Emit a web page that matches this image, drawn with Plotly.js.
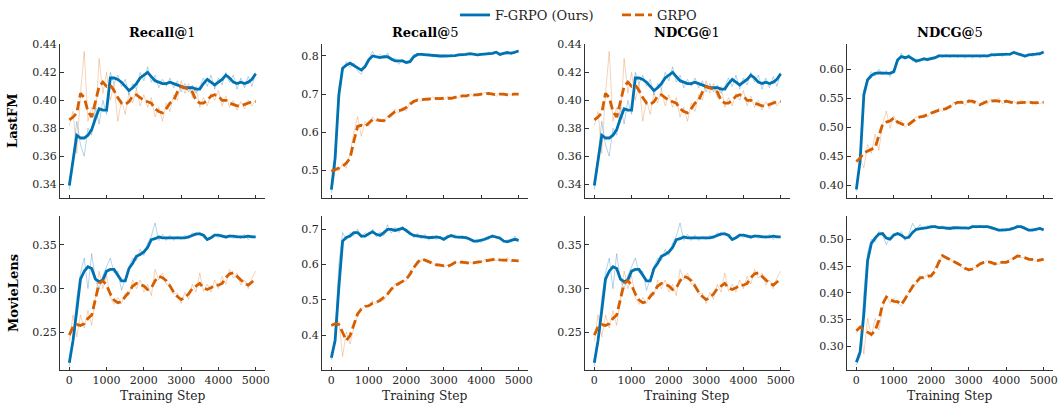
<!DOCTYPE html>
<html>
<head>
<meta charset="utf-8">
<script src="https://cdn.plot.ly/plotly-3.0.1.min.js"></script>
<style>
html,body{margin:0;padding:0;background:#fff;}
#chart{width:1062px;height:404px;}
</style>
</head>
<body>
<div id="chart"></div>
<script>
// ---------------- DATA ----------------
const steps = [0,100,200,300,400,500,600,700,800,900,1000,1100,1200,1300,1400,1500,1600,1700,1800,1900,2000,2100,2200,2300,2400,2500,2600,2700,2800,2900,3000,3100,3200,3300,3400,3500,3600,3700,3800,3900,4000,4100,4200,4300,4400,4500,4600,4700,4800,4900,5000];
const xTicks = [0,1000,2000,3000,4000,5000];
const columnTitles = ['<b>Recall@</b>1','<b>Recall@</b>5','<b>NDCG@</b>1','<b>NDCG@</b>5'];
const rowLabels = ['LastFM','MovieLens'];
const seriesNames = ['F-GRPO (Ours)','GRPO'];
const xLabel = 'Training Step';

// LastFM Recall@1 (identical to NDCG@1)
const lastfm_r1_fgrpo_smooth = [0.339,0.356,0.375,0.373,0.373,0.375,0.379,0.387,0.394,0.393,0.393,0.416,0.416,0.415,0.413,0.410,0.407,0.409,0.412,0.416,0.418,0.420,0.417,0.414,0.413,0.412,0.412,0.413,0.412,0.411,0.410,0.409,0.409,0.409,0.408,0.408,0.412,0.415,0.413,0.411,0.413,0.415,0.418,0.416,0.413,0.412,0.413,0.412,0.413,0.415,0.419];
const lastfm_r1_fgrpo_raw = [0.336,0.362,0.385,0.368,0.360,0.380,0.375,0.395,0.383,0.400,0.390,0.420,0.412,0.418,0.410,0.415,0.404,0.412,0.408,0.420,0.414,0.424,0.413,0.418,0.409,0.415,0.410,0.416,0.409,0.414,0.406,0.412,0.406,0.411,0.405,0.410,0.416,0.410,0.418,0.408,0.416,0.411,0.420,0.413,0.418,0.408,0.416,0.409,0.417,0.410,0.420];
const lastfm_r1_grpo_smooth = [0.386,0.388,0.391,0.405,0.402,0.392,0.388,0.399,0.410,0.413,0.410,0.411,0.407,0.402,0.398,0.397,0.399,0.403,0.404,0.402,0.400,0.399,0.398,0.394,0.392,0.391,0.394,0.398,0.400,0.406,0.410,0.409,0.408,0.406,0.400,0.398,0.398,0.400,0.403,0.404,0.403,0.400,0.400,0.398,0.397,0.396,0.396,0.397,0.398,0.399,0.399];
const lastfm_r1_grpo_raw = [0.382,0.392,0.362,0.405,0.435,0.385,0.395,0.385,0.430,0.405,0.420,0.400,0.412,0.385,0.400,0.390,0.405,0.398,0.408,0.396,0.404,0.395,0.402,0.388,0.395,0.385,0.398,0.392,0.404,0.400,0.414,0.405,0.412,0.402,0.410,0.395,0.402,0.396,0.405,0.400,0.407,0.396,0.403,0.395,0.400,0.393,0.399,0.394,0.400,0.396,0.400];

// LastFM Recall@5
const lastfm_r5_fgrpo_smooth = [0.449,0.532,0.698,0.768,0.776,0.781,0.775,0.768,0.763,0.772,0.790,0.800,0.798,0.796,0.798,0.798,0.792,0.787,0.787,0.787,0.783,0.785,0.798,0.804,0.804,0.803,0.803,0.801,0.801,0.800,0.800,0.800,0.801,0.801,0.803,0.803,0.804,0.806,0.804,0.803,0.804,0.805,0.807,0.807,0.810,0.804,0.807,0.809,0.807,0.809,0.813];
const lastfm_r5_fgrpo_raw = [0.440,0.500,0.720,0.760,0.785,0.770,0.782,0.760,0.752,0.778,0.795,0.812,0.795,0.805,0.792,0.808,0.788,0.795,0.778,0.792,0.780,0.790,0.805,0.800,0.808,0.800,0.806,0.798,0.804,0.797,0.803,0.798,0.805,0.799,0.806,0.801,0.808,0.802,0.806,0.800,0.808,0.803,0.810,0.805,0.812,0.801,0.809,0.805,0.811,0.806,0.815];
const lastfm_r5_grpo_smooth = [0.497,0.502,0.506,0.510,0.519,0.532,0.576,0.615,0.618,0.615,0.624,0.633,0.633,0.630,0.630,0.637,0.646,0.654,0.656,0.659,0.665,0.674,0.681,0.684,0.685,0.685,0.687,0.689,0.688,0.688,0.689,0.689,0.689,0.691,0.694,0.695,0.695,0.698,0.698,0.698,0.700,0.701,0.702,0.700,0.698,0.700,0.700,0.698,0.700,0.700,0.700];
const lastfm_r5_grpo_raw = [0.495,0.510,0.498,0.518,0.505,0.545,0.600,0.641,0.589,0.628,0.615,0.640,0.628,0.636,0.625,0.642,0.640,0.660,0.650,0.666,0.655,0.680,0.676,0.690,0.680,0.690,0.683,0.693,0.684,0.692,0.685,0.693,0.686,0.695,0.690,0.699,0.691,0.702,0.694,0.703,0.696,0.705,0.697,0.704,0.694,0.703,0.696,0.702,0.697,0.703,0.699];

// LastFM NDCG@5
const lastfm_n5_fgrpo_smooth = [0.393,0.442,0.556,0.582,0.589,0.593,0.594,0.594,0.593,0.593,0.596,0.616,0.622,0.620,0.622,0.618,0.614,0.616,0.618,0.617,0.618,0.620,0.623,0.623,0.623,0.623,0.623,0.623,0.622,0.622,0.622,0.622,0.622,0.622,0.623,0.623,0.625,0.625,0.625,0.625,0.626,0.626,0.629,0.627,0.625,0.623,0.625,0.625,0.626,0.627,0.630];
const lastfm_n5_fgrpo_raw = [0.390,0.450,0.565,0.578,0.596,0.588,0.600,0.590,0.598,0.587,0.600,0.612,0.628,0.617,0.626,0.614,0.618,0.612,0.621,0.614,0.621,0.617,0.626,0.620,0.626,0.620,0.626,0.620,0.625,0.619,0.625,0.619,0.625,0.619,0.626,0.620,0.628,0.622,0.628,0.622,0.629,0.623,0.631,0.625,0.628,0.620,0.627,0.622,0.629,0.624,0.632];
const lastfm_n5_grpo_smooth = [0.441,0.447,0.456,0.459,0.462,0.465,0.485,0.505,0.509,0.511,0.516,0.509,0.506,0.503,0.505,0.510,0.515,0.518,0.519,0.522,0.525,0.527,0.529,0.530,0.532,0.536,0.540,0.543,0.543,0.542,0.545,0.545,0.542,0.539,0.542,0.545,0.545,0.546,0.545,0.543,0.545,0.543,0.542,0.542,0.543,0.543,0.543,0.542,0.542,0.543,0.543];
const lastfm_n5_grpo_raw = [0.440,0.445,0.430,0.470,0.455,0.488,0.460,0.505,0.528,0.498,0.520,0.505,0.512,0.500,0.508,0.513,0.518,0.515,0.523,0.517,0.527,0.524,0.533,0.527,0.536,0.532,0.544,0.540,0.547,0.538,0.549,0.541,0.546,0.536,0.546,0.540,0.549,0.543,0.551,0.540,0.548,0.540,0.546,0.539,0.547,0.540,0.546,0.539,0.546,0.540,0.545];

// MovieLens Recall@1 (identical to NDCG@1)
const movielens_r1_fgrpo_smooth = [0.2155,0.241,0.275,0.311,0.320,0.325,0.323,0.311,0.308,0.310,0.320,0.322,0.322,0.315,0.309,0.309,0.323,0.329,0.337,0.339,0.342,0.347,0.356,0.357,0.359,0.358,0.358,0.358,0.358,0.358,0.358,0.358,0.359,0.361,0.3625,0.3625,0.361,0.356,0.358,0.361,0.361,0.360,0.359,0.360,0.360,0.359,0.359,0.359,0.360,0.359,0.359];
const movielens_r1_fgrpo_raw = [0.212,0.245,0.290,0.318,0.335,0.300,0.340,0.310,0.300,0.315,0.325,0.335,0.318,0.320,0.298,0.312,0.325,0.335,0.332,0.345,0.338,0.352,0.360,0.375,0.355,0.362,0.355,0.361,0.355,0.360,0.356,0.361,0.357,0.364,0.360,0.365,0.358,0.355,0.360,0.362,0.358,0.362,0.357,0.362,0.357,0.361,0.357,0.362,0.356,0.361,0.358];
const movielens_r1_grpo_smooth = [0.247,0.2565,0.259,0.258,0.260,0.266,0.270,0.287,0.306,0.309,0.304,0.294,0.287,0.284,0.285,0.291,0.296,0.303,0.306,0.305,0.303,0.299,0.301,0.309,0.314,0.3125,0.309,0.303,0.296,0.291,0.2875,0.290,0.294,0.300,0.303,0.306,0.301,0.299,0.301,0.304,0.304,0.306,0.3125,0.317,0.318,0.314,0.309,0.306,0.304,0.3075,0.311];
const movielens_r1_grpo_raw = [0.240,0.270,0.245,0.270,0.255,0.275,0.258,0.290,0.320,0.300,0.315,0.290,0.282,0.290,0.283,0.295,0.292,0.310,0.300,0.310,0.296,0.305,0.292,0.322,0.310,0.318,0.305,0.306,0.294,0.295,0.283,0.296,0.288,0.305,0.296,0.318,0.297,0.305,0.296,0.310,0.300,0.314,0.305,0.322,0.312,0.318,0.304,0.310,0.300,0.312,0.320];

// MovieLens Recall@5
const movielens_r5_fgrpo_smooth = [0.336,0.385,0.535,0.666,0.676,0.680,0.690,0.690,0.680,0.680,0.687,0.692,0.685,0.682,0.690,0.699,0.699,0.696,0.699,0.702,0.696,0.687,0.682,0.680,0.680,0.6775,0.676,0.676,0.6775,0.676,0.671,0.6775,0.682,0.678,0.6775,0.676,0.676,0.671,0.666,0.666,0.668,0.671,0.676,0.680,0.6775,0.674,0.666,0.664,0.668,0.671,0.668];
const movielens_r5_fgrpo_raw = [0.330,0.400,0.600,0.690,0.670,0.690,0.680,0.700,0.675,0.690,0.680,0.700,0.678,0.692,0.680,0.712,0.688,0.705,0.690,0.708,0.690,0.693,0.675,0.688,0.672,0.685,0.668,0.682,0.670,0.680,0.668,0.684,0.675,0.685,0.672,0.683,0.670,0.675,0.662,0.672,0.662,0.676,0.670,0.685,0.672,0.680,0.662,0.670,0.662,0.680,0.665];
const movielens_r5_grpo_smooth = [0.427,0.432,0.430,0.408,0.385,0.399,0.432,0.460,0.474,0.481,0.483,0.490,0.493,0.4975,0.507,0.516,0.530,0.540,0.546,0.552,0.558,0.5725,0.591,0.605,0.615,0.612,0.608,0.6025,0.599,0.598,0.595,0.594,0.599,0.605,0.607,0.607,0.605,0.603,0.604,0.607,0.608,0.610,0.612,0.615,0.615,0.613,0.612,0.613,0.612,0.610,0.610];
const movielens_r5_grpo_raw = [0.425,0.435,0.440,0.340,0.410,0.375,0.420,0.455,0.470,0.485,0.480,0.498,0.488,0.505,0.498,0.520,0.525,0.545,0.540,0.555,0.552,0.580,0.590,0.612,0.612,0.615,0.605,0.604,0.596,0.602,0.592,0.598,0.600,0.610,0.604,0.612,0.600,0.608,0.600,0.612,0.605,0.614,0.608,0.618,0.610,0.614,0.608,0.620,0.606,0.612,0.608];

// MovieLens NDCG@5
const movielens_n5_fgrpo_smooth = [0.270,0.289,0.360,0.460,0.4925,0.5025,0.510,0.511,0.5025,0.5005,0.508,0.511,0.508,0.5025,0.504,0.513,0.519,0.5205,0.521,0.522,0.524,0.524,0.522,0.522,0.521,0.5205,0.522,0.522,0.522,0.522,0.521,0.524,0.524,0.524,0.524,0.524,0.522,0.519,0.5175,0.5175,0.518,0.519,0.521,0.524,0.524,0.521,0.5175,0.5175,0.519,0.5205,0.518];
const movielens_n5_fgrpo_raw = [0.265,0.280,0.400,0.475,0.500,0.495,0.515,0.508,0.490,0.505,0.512,0.508,0.515,0.498,0.510,0.530,0.518,0.528,0.518,0.526,0.520,0.527,0.520,0.526,0.518,0.524,0.518,0.525,0.519,0.524,0.519,0.527,0.521,0.527,0.521,0.526,0.519,0.521,0.515,0.521,0.515,0.522,0.520,0.527,0.521,0.524,0.515,0.521,0.515,0.523,0.517];
const movielens_n5_grpo_smooth = [0.329,0.3355,0.3305,0.326,0.322,0.329,0.348,0.379,0.392,0.387,0.384,0.3835,0.378,0.3885,0.401,0.4115,0.420,0.428,0.429,0.430,0.432,0.441,0.457,0.4695,0.466,0.463,0.460,0.455,0.451,0.446,0.443,0.4445,0.449,0.454,0.457,0.458,0.457,0.454,0.457,0.457,0.457,0.460,0.465,0.469,0.468,0.465,0.463,0.462,0.460,0.461,0.463];
const movielens_n5_grpo_raw = [0.325,0.340,0.285,0.352,0.318,0.352,0.330,0.370,0.395,0.380,0.390,0.380,0.375,0.392,0.398,0.415,0.415,0.432,0.425,0.436,0.428,0.448,0.455,0.472,0.462,0.465,0.456,0.457,0.448,0.446,0.440,0.447,0.447,0.456,0.455,0.460,0.454,0.457,0.452,0.460,0.455,0.464,0.462,0.470,0.465,0.467,0.460,0.464,0.458,0.465,0.462];

// ---------------- PANELS ----------------
const panels = [
  {fs:lastfm_r1_fgrpo_smooth, fr:lastfm_r1_fgrpo_raw, gs:lastfm_r1_grpo_smooth, gr:lastfm_r1_grpo_raw, yr:[0.330,0.4405], dt:0.02, fmt:'.2f'},
  {fs:lastfm_r5_fgrpo_smooth, fr:lastfm_r5_fgrpo_raw, gs:lastfm_r5_grpo_smooth, gr:lastfm_r5_grpo_raw, yr:[0.427,0.832], dt:0.1, fmt:'.1f'},
  {fs:lastfm_r1_fgrpo_smooth, fr:lastfm_r1_fgrpo_raw, gs:lastfm_r1_grpo_smooth, gr:lastfm_r1_grpo_raw, yr:[0.330,0.4405], dt:0.02, fmt:'.2f'},
  {fs:lastfm_n5_fgrpo_smooth, fr:lastfm_n5_fgrpo_raw, gs:lastfm_n5_grpo_smooth, gr:lastfm_n5_grpo_raw, yr:[0.378,0.644], dt:0.05, fmt:'.2f'},
  {fs:movielens_r1_fgrpo_smooth, fr:movielens_r1_fgrpo_raw, gs:movielens_r1_grpo_smooth, gr:movielens_r1_grpo_raw, yr:[0.207,0.383], dt:0.05, fmt:'.2f'},
  {fs:movielens_r5_fgrpo_smooth, fr:movielens_r5_fgrpo_raw, gs:movielens_r5_grpo_smooth, gr:movielens_r5_grpo_raw, yr:[0.301,0.737], dt:0.1, fmt:'.1f'},
  {fs:movielens_r1_fgrpo_smooth, fr:movielens_r1_fgrpo_raw, gs:movielens_r1_grpo_smooth, gr:movielens_r1_grpo_raw, yr:[0.207,0.383], dt:0.05, fmt:'.2f'},
  {fs:movielens_n5_fgrpo_smooth, fr:movielens_n5_fgrpo_raw, gs:movielens_n5_grpo_smooth, gr:movielens_n5_grpo_raw, yr:[0.255,0.544], dt:0.05, fmt:'.2f'}
];

const W = 1062, H = 404;
const colPx = [[60,265],[322,528],[585,790],[847,1053]];
const rowPx = [[42,197],[215,370]];
const BLUE = '#0072B2', ORANGE = '#D55E00';
const BLUE_F = 'rgba(0,114,178,0.3)', ORANGE_F = 'rgba(213,94,0,0.27)';
const FONT = 'DejaVu Serif';
const AX = '#333333';

const traces = [];
const layout = {
  width: W, height: H,
  margin: {l:0, r:0, t:0, b:0},
  paper_bgcolor: '#fff', plot_bgcolor: '#fff',
  font: {family: FONT, size: 11, color: '#262626'},
  showlegend: true,
  legend: {orientation:'h', x:455/W, xanchor:'left', y:1.005, yanchor:'top',
           entrywidth:117, entrywidthmode:'pixels',
           font:{family:FONT, size:13, color:'#262626'}, bgcolor:'rgba(0,0,0,0)', tracegroupgap:0},
  annotations: []
};

panels.forEach((p, i) => {
  const r = Math.floor(i/4), c = i%4;
  const n = i+1;
  const xa = n===1 ? 'x' : 'x'+n, ya = n===1 ? 'y' : 'y'+n;
  traces.push({x:steps, y:p.fr, xaxis:xa, yaxis:ya, mode:'lines', line:{color:BLUE_F, width:1}, showlegend:false, hoverinfo:'skip'});
  traces.push({x:steps, y:p.gr, xaxis:xa, yaxis:ya, mode:'lines', line:{color:ORANGE_F, width:1}, showlegend:false, hoverinfo:'skip'});
  traces.push({x:steps, y:p.fs, xaxis:xa, yaxis:ya, mode:'lines', name:seriesNames[0], legendgroup:'f', line:{color:BLUE, width:2.8}, showlegend:i===0});
  traces.push({x:steps, y:p.gs, xaxis:xa, yaxis:ya, mode:'lines', name:seriesNames[1], legendgroup:'g', line:{color:ORANGE, width:2.8, dash:'9px,4px'}, showlegend:i===0});

  const xd = [colPx[c][0]/W, colPx[c][1]/W];
  const yd = [1-rowPx[r][1]/H, 1-rowPx[r][0]/H];
  layout['xaxis'+(n===1?'':n)] = {
    domain: xd, anchor: ya, range:[-250,5250], tickvals: xTicks,
    showticklabels: r===1, ticks:'inside', ticklen:3.5, tickwidth:1, tickcolor:AX,
    showline:true, linecolor:AX, linewidth:1, showgrid:false, zeroline:false,
    tickfont:{family:FONT, size:11, color:'#262626'}
  };
  layout['yaxis'+(n===1?'':n)] = {
    domain: yd, anchor: xa, range:p.yr, dtick:p.dt, tick0:0, tickformat:p.fmt,
    ticks:'inside', ticklen:3.5, tickwidth:1, tickcolor:AX,
    showline:true, linecolor:AX, linewidth:1, showgrid:false, zeroline:false,
    tickfont:{family:FONT, size:11, color:'#262626'}
  };
  if (r===0) {
    layout.annotations.push({text:columnTitles[c], xref:'paper', yref:'paper',
      x:(xd[0]+xd[1])/2, y:1-31/H, xanchor:'center', yanchor:'middle', showarrow:false,
      font:{family:FONT, size:13, color:'#000'}});
  }
  if (r===1) {
    layout.annotations.push({text:xLabel, xref:'paper', yref:'paper',
      x:(xd[0]+xd[1])/2, y:1-396/H, xanchor:'center', yanchor:'middle', showarrow:false,
      font:{family:FONT, size:12.3, color:'#262626'}});
  }
});

rowLabels.forEach((t, r) => {
  layout.annotations.push({text:'<b>'+t+'</b>', xref:'paper', yref:'paper',
    x:13/W, y:1-((rowPx[r][0]+rowPx[r][1])/2)/H, xanchor:'center', yanchor:'middle',
    textangle:-90, showarrow:false, font:{family:FONT, size:13, color:'#000'}});
});

Plotly.newPlot('chart', traces, layout, {staticPlot:true, displayModeBar:false});
</script>
</body>
</html>
